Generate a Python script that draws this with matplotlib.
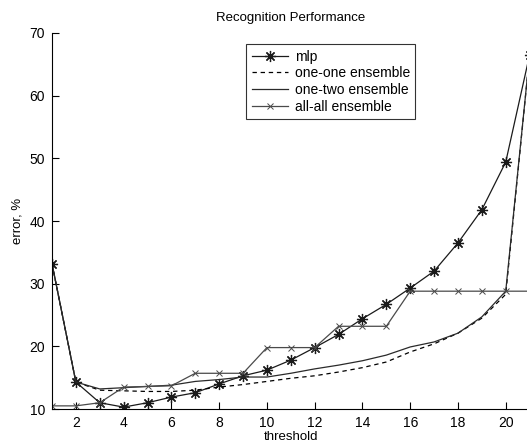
import numpy as np
import matplotlib
matplotlib.use("Agg")
import matplotlib.pyplot as plt

plt.rcParams['font.family'] = ['Liberation Sans', 'DejaVu Sans']

# threshold values and error rates (%)
threshold = list(range(1, 22))
mlp = [33.2, 14.3, 11.0, 10.3, 11.0, 11.9, 12.6, 14.0, 15.3, 16.2, 17.8,
       19.8, 21.9, 24.4, 26.7, 29.3, 32.0, 36.5, 41.8, 49.4, 66.5]
one_one = [33.2, 14.3, 13.0, 12.9, 12.8, 12.8, 13.0, 13.5, 13.9, 14.4, 14.9,
           15.3, 15.9, 16.6, 17.5, 19.1, 20.4, 22.1, 24.5, 28.3, 66.5]
one_two = [33.2, 14.3, 13.2, 13.4, 13.6, 13.8, 14.4, 14.7, 15.1, 15.1, 15.7,
           16.4, 17.0, 17.7, 18.6, 19.9, 20.7, 22.1, 24.7, 28.8, 66.5]
all_all = [10.5, 10.5, 11.0, 13.5, 13.6, 13.7, 15.7, 15.7, 15.7, 19.8, 19.8,
           19.8, 23.2, 23.2, 23.2, 28.8, 28.8, 28.8, 28.8, 28.8, 28.8]

fig = plt.figure(figsize=(5.27, 4.48), dpi=100)
ax = fig.add_axes([52 / 527, 1 - 409 / 448, (529.6 - 52) / 527, (409 - 33) / 448])

# matlab-style asterisk: + and x overlaid
asterisk = (8, 2, 0)
ax.plot(threshold, mlp, color='#1a1a1a', lw=0.9, marker=asterisk, ms=8,
        mew=0.9, label='mlp')
ax.plot(threshold, one_one, color='k', lw=0.9, ls=(0, (3.5, 3)),
        label='one-one ensemble')
ax.plot(threshold, one_two, color='#2a2a2a', lw=0.9, label='one-two ensemble')
ax.plot(threshold, all_all, color='#4a4a4a', lw=0.9, marker='x', ms=4.5,
        mew=0.7, label='all-all ensemble')

ax.set_xlim(1, 21)
ax.set_ylim(10, 70)
ax.set_xticks(range(2, 21, 2))
ax.set_yticks(range(10, 71, 10))
ax.tick_params(direction='in', length=5, width=0.8, labelsize=10, pad=5)
for side in ('top', 'right'):
    ax.spines[side].set_visible(False)
for side in ('left', 'bottom'):
    ax.spines[side].set_linewidth(0.8)

ax.set_title('Recognition Performance', fontsize=9.5, pad=9)
ax.set_xlabel('threshold', fontsize=9.5, labelpad=1)
ax.set_ylabel('error, %', fontsize=9.5, labelpad=4)

leg = ax.legend(loc='upper left', bbox_to_anchor=((246 - 52) / 477.6, (409 - 44) / 376),
                fontsize=10, frameon=True, fancybox=False, handlelength=2.6,
                handletextpad=0.5, labelspacing=0.2, borderpad=0.4,
                borderaxespad=0)
leg.get_frame().set_edgecolor('k')
leg.get_frame().set_linewidth(0.8)

fig.savefig('out.png', dpi=100)
